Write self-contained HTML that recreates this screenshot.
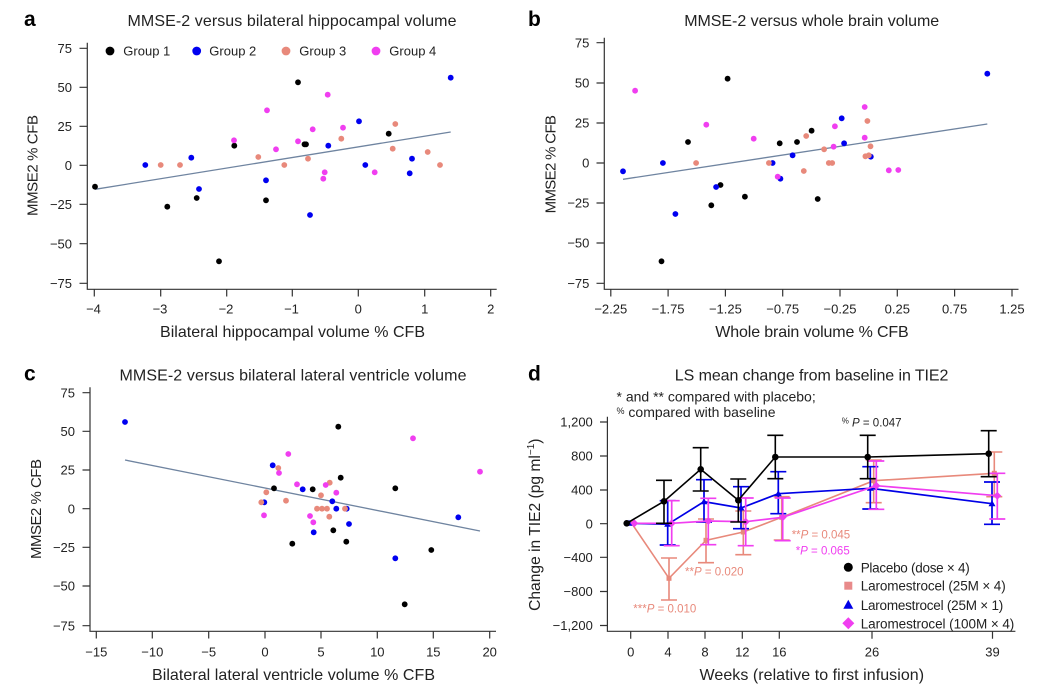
<!DOCTYPE html>
<html><head><meta charset="utf-8"><style>
body{margin:0;background:#fff}
svg{display:block}
text{font-family:"Liberation Sans",Arial,sans-serif;fill:#222}
.t{font-size:13px}
.ax{stroke:#333;stroke-width:1.2;fill:none}
.pl{font-weight:bold;font-size:21px;fill:#000}
.ti{font-size:16px}
.g1{fill:#000}.g2{fill:#0000f0}.g3{fill:#e8897b}.g4{fill:#f03ef0}
.reg{stroke:#6f84a0;stroke-width:1.3}
</style></head><body>
<svg width="1051" height="695" viewBox="0 0 1051 695" xmlns="http://www.w3.org/2000/svg">
<rect width="1051" height="695" fill="#fff"/>

<!-- ===== Panel a ===== -->
<text class="pl" x="24" y="26">a</text>
<text class="ti" x="292" y="26" text-anchor="middle" textLength="329">MMSE-2 versus bilateral hippocampal volume</text>
<path class="ax" d="M87.3,42.7V289.3H496.7"/>
<path class="ax" d="M79.5,48.3H87.3M79.5,87.3H87.3M79.5,126.3H87.3M79.5,165.3H87.3M79.5,204.3H87.3M79.5,243.7H87.3M79.5,283.3H87.3"/>
<path class="ax" d="M94.3,289.3v7.2M160.7,289.3v7.2M226.7,289.3v7.2M292.3,289.3v7.2M358.3,289.3v7.2M424.7,289.3v7.2M490.7,289.3v7.2"/>
<g class="t" text-anchor="end">
<text x="72" y="53">75</text><text x="72" y="92">50</text><text x="72" y="131">25</text><text x="72" y="170">0</text><text x="72" y="209">−25</text><text x="72" y="248.4">−50</text><text x="72" y="288">−75</text>
</g>
<g class="t" text-anchor="middle">
<text x="93.5" y="313.3">−4</text><text x="160" y="313.3">−3</text><text x="226" y="313.3">−2</text><text x="291.5" y="313.3">−1</text><text x="358.3" y="313.3">0</text><text x="424.7" y="313.3">1</text><text x="490.7" y="313.3">2</text>
</g>
<text class="ti" x="292.5" y="337" text-anchor="middle" textLength="265">Bilateral hippocampal volume % CFB</text>
<text class="ti" style="font-size:15px" transform="translate(37.7,165.5) rotate(-90)" text-anchor="middle" textLength="101">MMSE2 % CFB</text>
<!-- legend a -->
<circle class="g1" cx="110" cy="51" r="4.4"/><text class="t" x="123.3" y="55.7">Group 1</text>
<circle class="g2" cx="196.7" cy="51" r="4.4"/><text class="t" x="209.3" y="55.7">Group 2</text>
<circle class="g3" cx="286" cy="51" r="4.4"/><text class="t" x="299.3" y="55.7">Group 3</text>
<circle class="g4" cx="376" cy="51" r="4.4"/><text class="t" x="389.3" y="55.7">Group 4</text>
<line class="reg" x1="95" y1="189.3" x2="450.7" y2="132"/>
<g class="g1">
<circle cx="95" cy="186.7" r="2.9"/><circle cx="167.3" cy="206.7" r="2.9"/><circle cx="196.7" cy="198" r="2.9"/><circle cx="219" cy="261.3" r="2.9"/><circle cx="234.3" cy="145.7" r="2.9"/><circle cx="266" cy="200.3" r="2.9"/><circle cx="298" cy="82.3" r="2.9"/><circle cx="306" cy="144.3" r="2.9"/><circle cx="304.5" cy="144.3" r="2.9"/><circle cx="388.7" cy="133.7" r="2.9"/>
</g>
<g class="g2">
<circle cx="145.3" cy="165" r="2.9"/><circle cx="191.3" cy="157.7" r="2.9"/><circle cx="199" cy="189" r="2.9"/><circle cx="266" cy="180.3" r="2.9"/><circle cx="310" cy="215" r="2.9"/><circle cx="328.3" cy="145.7" r="2.9"/><circle cx="359" cy="121.3" r="2.9"/><circle cx="365.3" cy="165" r="2.9"/><circle cx="409.7" cy="173.3" r="2.9"/><circle cx="412" cy="158.7" r="2.9"/><circle cx="450.7" cy="77.7" r="2.9"/>
</g>
<g class="g3">
<circle cx="160.7" cy="165" r="2.9"/><circle cx="180" cy="165" r="2.9"/><circle cx="258.3" cy="157" r="2.9"/><circle cx="284.3" cy="165" r="2.9"/><circle cx="308" cy="158.7" r="2.9"/><circle cx="341.3" cy="138.7" r="2.9"/><circle cx="392.7" cy="148.7" r="2.9"/><circle cx="395.3" cy="124" r="2.9"/><circle cx="427.7" cy="152" r="2.9"/><circle cx="440" cy="165" r="2.9"/>
</g>
<g class="g4">
<circle cx="234" cy="140.3" r="2.9"/><circle cx="267" cy="110.3" r="2.9"/><circle cx="276" cy="149.3" r="2.9"/><circle cx="298" cy="141.3" r="2.9"/><circle cx="312.7" cy="129.3" r="2.9"/><circle cx="323.3" cy="178.7" r="2.9"/><circle cx="324.7" cy="172.3" r="2.9"/><circle cx="327.7" cy="94.7" r="2.9"/><circle cx="343" cy="127.7" r="2.9"/><circle cx="374.7" cy="172.3" r="2.9"/>
</g>

<!-- ===== Panel b ===== -->
<text class="pl" x="528" y="26">b</text>
<text class="ti" x="811.7" y="26" text-anchor="middle" textLength="255">MMSE-2 versus whole brain volume</text>
<path class="ax" d="M604.3,37.7V289.3H1018.5"/>
<path class="ax" d="M596.5,42.7H604.3M596.5,83H604.3M596.5,123H604.3M596.5,163H604.3M596.5,203H604.3M596.5,243H604.3M596.5,283.3H604.3"/>
<path class="ax" d="M610.8,289.3v7.2M668.1,289.3v7.2M725.4,289.3v7.2M782.7,289.3v7.2M840,289.3v7.2M897.3,289.3v7.2M954.6,289.3v7.2M1012,289.3v7.2"/>
<g class="t" text-anchor="end">
<text x="589.4" y="47.4">75</text><text x="589.4" y="87.7">50</text><text x="589.4" y="127.7">25</text><text x="589.4" y="167.7">0</text><text x="589.4" y="207.7">−25</text><text x="589.4" y="247.7">−50</text><text x="589.4" y="288">−75</text>
</g>
<g class="t" text-anchor="middle">
<text x="610.8" y="313.3">−2.25</text><text x="668.1" y="313.3">−1.75</text><text x="725.4" y="313.3">−1.25</text><text x="782.7" y="313.3">−0.75</text><text x="840" y="313.3">−0.25</text><text x="897.3" y="313.3">0.25</text><text x="954.6" y="313.3">0.75</text><text x="1012" y="313.3">1.25</text>
</g>
<text class="ti" x="812" y="337" text-anchor="middle" textLength="193.4">Whole brain volume % CFB</text>
<text class="ti" style="font-size:15px" transform="translate(555.6,164.2) rotate(-90)" text-anchor="middle" textLength="98.3">MMSE2 % CFB</text>
<line class="reg" x1="623" y1="179.3" x2="987.3" y2="124"/>
<g class="g1">
<circle cx="688" cy="142" r="2.9"/><circle cx="711.3" cy="205.3" r="2.9"/><circle cx="720.5" cy="185" r="2.9"/><circle cx="727.6" cy="78.7" r="2.9"/><circle cx="744.9" cy="196.7" r="2.9"/><circle cx="779.7" cy="143.3" r="2.9"/><circle cx="797" cy="142" r="2.9"/><circle cx="811.6" cy="130.7" r="2.9"/><circle cx="817.7" cy="199" r="2.9"/><circle cx="661.5" cy="261.3" r="2.9"/>
</g>
<g class="g2">
<circle cx="623" cy="171.3" r="2.9"/><circle cx="662.9" cy="163" r="2.9"/><circle cx="675.4" cy="214" r="2.9"/><circle cx="716.1" cy="187" r="2.9"/><circle cx="772.6" cy="163" r="2.9"/><circle cx="780.4" cy="178.7" r="2.9"/><circle cx="792.6" cy="155.3" r="2.9"/><circle cx="841.7" cy="118.3" r="2.9"/><circle cx="844.1" cy="143.3" r="2.9"/><circle cx="870.8" cy="156.7" r="2.9"/><circle cx="987.3" cy="73.7" r="2.9"/>
</g>
<g class="g3">
<circle cx="696.1" cy="163" r="2.9"/><circle cx="768.9" cy="163" r="2.9"/><circle cx="803.8" cy="171" r="2.9"/><circle cx="806.2" cy="136" r="2.9"/><circle cx="824.1" cy="149.3" r="2.9"/><circle cx="828.8" cy="163" r="2.9"/><circle cx="832.2" cy="163" r="2.9"/><circle cx="865.4" cy="156.3" r="2.9"/><circle cx="867.4" cy="121" r="2.9"/><circle cx="868.8" cy="155.3" r="2.9"/><circle cx="870.5" cy="146.3" r="2.9"/>
</g>
<g class="g4">
<circle cx="635.1" cy="90.7" r="2.9"/><circle cx="706.3" cy="124.7" r="2.9"/><circle cx="753.7" cy="138.7" r="2.9"/><circle cx="777.7" cy="176.7" r="2.9"/><circle cx="833.6" cy="146.7" r="2.9"/><circle cx="834.9" cy="126.3" r="2.9"/><circle cx="864.7" cy="107" r="2.9"/><circle cx="864.7" cy="137.7" r="2.9"/><circle cx="888.8" cy="170.3" r="2.9"/><circle cx="898.3" cy="170" r="2.9"/>
</g>

<!-- ===== Panel c ===== -->
<text class="pl" x="24" y="380.5">c</text>
<text class="ti" x="293" y="380.5" text-anchor="middle" textLength="347">MMSE-2 versus bilateral lateral ventricle volume</text>
<path class="ax" d="M90,387.3V631.3H496"/>
<path class="ax" d="M82.5,392.7H90M82.5,431.3H90M82.5,470H90M82.5,508.7H90M82.5,547.3H90M82.5,586H90M82.5,625.7H90"/>
<path class="ax" d="M96.3,631.3v7.2M152.3,631.3v7.2M208.7,631.3v7.2M265,631.3v7.2M321,631.3v7.2M377.3,631.3v7.2M433.3,631.3v7.2M489.7,631.3v7.2"/>
<g class="t" text-anchor="end">
<text x="75" y="397.4">75</text><text x="75" y="436">50</text><text x="75" y="474.7">25</text><text x="75" y="513.4">0</text><text x="75" y="552">−25</text><text x="75" y="590.7">−50</text><text x="75" y="630.4">−75</text>
</g>
<g class="t" text-anchor="middle">
<text x="96.3" y="656.7">−15</text><text x="152.3" y="656.7">−10</text><text x="208.7" y="656.7">−5</text><text x="265" y="656.7">0</text><text x="321" y="656.7">5</text><text x="377.3" y="656.7">10</text><text x="433.3" y="656.7">15</text><text x="489.7" y="656.7">20</text>
</g>
<text class="ti" x="293.5" y="680" text-anchor="middle" textLength="283">Bilateral lateral ventricle volume % CFB</text>
<text class="ti" style="font-size:15px" transform="translate(41,509) rotate(-90)" text-anchor="middle" textLength="100">MMSE2 % CFB</text>
<line class="reg" x1="125" y1="460" x2="480" y2="531"/>
<g class="g1">
<circle cx="274" cy="488.3" r="2.9"/><circle cx="292.3" cy="543.7" r="2.9"/><circle cx="312.7" cy="489.3" r="2.9"/><circle cx="333.3" cy="530.3" r="2.9"/><circle cx="338.3" cy="426.7" r="2.9"/><circle cx="340.7" cy="477.7" r="2.9"/><circle cx="346.3" cy="541.7" r="2.9"/><circle cx="395.3" cy="488.3" r="2.9"/><circle cx="404.7" cy="604.3" r="2.9"/><circle cx="431.3" cy="550" r="2.9"/>
</g>
<g class="g2">
<circle cx="125" cy="422" r="2.9"/><circle cx="264.3" cy="502.3" r="2.9"/><circle cx="272.7" cy="465.3" r="2.9"/><circle cx="302.7" cy="489.3" r="2.9"/><circle cx="313.7" cy="532.3" r="2.9"/><circle cx="332.3" cy="501.3" r="2.9"/><circle cx="336.3" cy="508.7" r="2.9"/><circle cx="346.7" cy="508.7" r="2.9"/><circle cx="349" cy="524" r="2.9"/><circle cx="395.3" cy="558.3" r="2.9"/><circle cx="458.3" cy="517.3" r="2.9"/>
</g>
<g class="g3">
<circle cx="261.3" cy="502.3" r="2.9"/><circle cx="266.3" cy="492.3" r="2.9"/><circle cx="278.3" cy="468" r="2.9"/><circle cx="286" cy="500.7" r="2.9"/><circle cx="317" cy="508.7" r="2.9"/><circle cx="321" cy="495.3" r="2.9"/><circle cx="322" cy="508.7" r="2.9"/><circle cx="327" cy="508.7" r="2.9"/><circle cx="329.3" cy="516.7" r="2.9"/><circle cx="329.7" cy="482.7" r="2.9"/><circle cx="345" cy="508.7" r="2.9"/>
</g>
<g class="g4">
<circle cx="264" cy="515.3" r="2.9"/><circle cx="279" cy="473" r="2.9"/><circle cx="288.3" cy="454" r="2.9"/><circle cx="297" cy="484.3" r="2.9"/><circle cx="310" cy="516" r="2.9"/><circle cx="313.3" cy="522.3" r="2.9"/><circle cx="325.7" cy="485" r="2.9"/><circle cx="336.3" cy="492.7" r="2.9"/><circle cx="413" cy="438.3" r="2.9"/><circle cx="480" cy="471.7" r="2.9"/>
</g>

<!-- ===== Panel d ===== -->
<text class="pl" x="528" y="380.5">d</text>
<text class="ti" x="811.6" y="380.5" text-anchor="middle" textLength="273.6">LS mean change from baseline in TIE2</text>
<text x="616.5" y="401.7" style="font-size:14px">* and ** compared with placebo;</text>
<text x="616.5" y="417" style="font-size:14px"><tspan style="font-size:9px" dy="-3">%</tspan><tspan dy="3"> compared with baseline</tspan></text>
<path class="ax" d="M607.4,416.7V631.3H1015.4"/>
<path class="ax" d="M600,422H607.4M600,456H607.4M600,490H607.4M600,523.7H607.4M600,557.3H607.4M600,591.5H607.4M600,625.5H607.4"/>
<path class="ax" d="M630.7,631.3v7.5M668,631.3v7.5M705,631.3v7.5M742.3,631.3v7.5M779.3,631.3v7.5M872,631.3v7.5M992.5,631.3v7.5"/>
<g class="t" text-anchor="end">
<text x="592.8" y="426.7">1,200</text><text x="592.8" y="460.7">800</text><text x="592.8" y="494.7">400</text><text x="592.8" y="528.4">0</text><text x="592.8" y="562">−400</text><text x="592.8" y="596.2">−800</text><text x="592.8" y="630.2">−1,200</text>
</g>
<g class="t" text-anchor="middle">
<text x="630.7" y="656.7">0</text><text x="668" y="656.7">4</text><text x="705" y="656.7">8</text><text x="742.3" y="656.7">12</text><text x="779.3" y="656.7">16</text><text x="872" y="656.7">26</text><text x="992.5" y="656.7">39</text>
</g>
<text class="ti" x="811.8" y="680" text-anchor="middle" textLength="224.5">Weeks (relative to first infusion)</text>
<text style="font-size:15.6px" transform="translate(540,524.7) rotate(-90)" text-anchor="middle">Change in TIE2 (pg ml<tspan style="font-size:10px" dy="-6">−1</tspan><tspan dy="6">)</tspan></text>

<!-- salmon series -->
<g stroke="#e8897b" stroke-width="1.6" fill="none">
<polyline points="631.7,523.3 669,578.3 706,540.3 743.3,532 781.7,517.3 873.7,480.7 994.3,473.3"/>
<path d="M669,558V600M661,558H677M661,600H677 M706,519V562.7M698,519H714M698,562.7H714 M743.3,511V554.7M735.3,511H751.3M735.3,554.7H751.3 M781.7,496.7V540M773.7,496.7H789.7M773.7,540H789.7 M873.7,460V502.7M865.7,460H881.7M865.7,502.7H881.7 M994.3,452V496.7M986.3,452H1002.3M986.3,496.7H1002.3"/>
</g>
<g fill="#e8897b">
<rect x="629.2" y="520.8" width="5" height="5"/><rect x="666.5" y="575.8" width="5" height="5"/><rect x="703.5" y="537.8" width="5" height="5"/><rect x="740.8" y="529.5" width="5" height="5"/><rect x="779.2" y="514.8" width="5" height="5"/><rect x="871.2" y="478.2" width="5" height="5"/><rect x="991.8" y="470.8" width="5" height="5"/>
</g>
<!-- blue series -->
<g stroke="#0000e6" stroke-width="1.7" fill="none">
<polyline points="629,523.3 667.7,524.3 704,501.7 741,508 778.3,493.7 870.3,488.3 992,503.7"/>
<path d="M667.7,500.7V545M659.7,500.7H675.7M659.7,545H675.7 M704,479.7V522M696,479.7H712M696,522H712 M741,486.7V528.7M733,486.7H749M733,528.7H749 M778.3,471.7V513.7M770.3,471.7H786.3M770.3,513.7H786.3 M870.3,466.7V509M862.3,466.7H878.3M862.3,509H878.3 M992,482V524.3M984,482H1000M984,524.3H1000"/>
</g>
<g fill="#0000e6">
<path d="M629,519.8l3.5,6h-7z M667.7,520.8l3.5,6h-7z M704,498.2l3.5,6h-7z M741,504.5l3.5,6h-7z M778.3,490.2l3.5,6h-7z M870.3,484.8l3.5,6h-7z M992,500.2l3.5,6h-7z"/>
</g>
<!-- magenta series -->
<g stroke="#f03ef0" stroke-width="1.7" fill="none">
<polyline points="634.3,523.3 671.7,523.3 708.3,521 745.7,521.7 782.7,517.3 876.3,485.7 997.3,495.7"/>
<path d="M671.7,500.7V545.7M663.7,500.7H679.7M663.7,545.7H679.7 M708.3,498.3V544.7M700.3,498.3H716.3M700.3,544.7H716.3 M745.7,498V545.7M737.7,498H753.7M737.7,545.7H753.7 M782.7,498V540.7M774.7,498H790.7M774.7,540.7H790.7 M876.3,461V509.3M868.3,461H884.3M868.3,509.3H884.3 M997.3,473.3V519M989.3,473.3H1005.3M989.3,519H1005.3"/>
</g>
<g fill="#f03ef0">
<path d="M634.3,519.3l4,4l-4,4l-4,-4z M671.7,519.3l4,4l-4,4l-4,-4z M708.3,517l4,4l-4,4l-4,-4z M745.7,517.7l4,4l-4,4l-4,-4z M782.7,513.3l4,4l-4,4l-4,-4z M876.3,481.7l4,4l-4,4l-4,-4z M997.3,491.7l4,4l-4,4l-4,-4z"/>
</g>
<!-- black series -->
<g stroke="#000" stroke-width="1.6" fill="none">
<polyline points="626.7,523.3 664,501.3 700.7,469.3 738.3,500.3 775.3,457 867.7,457 988.7,453.7"/>
<path d="M664,480.3V523.3M656,480.3H672M656,523.3H672 M700.7,447.7V491M692.7,447.7H708.7M692.7,491H708.7 M738.3,479V522M730.3,479H746.3M730.3,522H746.3 M775.3,435.3V478.7M767.3,435.3H783.3M767.3,478.7H783.3 M867.7,435.3V478.7M859.7,435.3H875.7M859.7,478.7H875.7 M988.7,430.7V476.7M980.7,430.7H996.7M980.7,476.7H996.7"/>
</g>
<g fill="#000">
<circle cx="626.7" cy="523.3" r="3.3"/><circle cx="664" cy="501.3" r="3.3"/><circle cx="700.7" cy="469.3" r="3.3"/><circle cx="738.3" cy="500.3" r="3.3"/><circle cx="775.3" cy="457" r="3.3"/><circle cx="867.7" cy="457" r="3.3"/><circle cx="988.7" cy="453.7" r="3.3"/>
</g>

<!-- annotations -->
<text x="841.7" y="426.5" style="font-size:11.5px;fill:#222"><tspan style="font-size:8px" dy="-3">%</tspan><tspan dy="3" font-style="italic"> P</tspan> = 0.047</text>
<text x="791.7" y="538.3" style="font-size:11.5px;fill:#e8897b">**<tspan font-style="italic">P</tspan> = 0.045</text>
<text x="795.7" y="554.3" style="font-size:11.5px;fill:#f03ef0">*<tspan font-style="italic">P</tspan> = 0.065</text>
<text x="685" y="575.7" style="font-size:11.5px;fill:#e8897b">**<tspan font-style="italic">P</tspan> = 0.020</text>
<text x="633.3" y="612.3" style="font-size:11.5px;fill:#e8897b">***<tspan font-style="italic">P</tspan> = 0.010</text>

<!-- legend d -->
<circle cx="848.3" cy="567.3" r="4.5" fill="#000"/>
<rect x="844.3" y="581.7" width="8" height="8" fill="#e88a8a"/>
<path d="M848.3,599.8l5,9h-10z" fill="#0000e6"/>
<path d="M848.3,617.3l6,6l-6,6l-6,-6z" fill="#f03ef0"/>
<g style="font-size:13.5px">
<text x="860.7" y="572.3" textLength="109">Placebo (dose × 4)</text>
<text x="860.7" y="590.7" textLength="145">Laromestrocel (25M × 4)</text>
<text x="860.7" y="610" textLength="142.6">Laromestrocel (25M × 1)</text>
<text x="860.7" y="628.3" textLength="153.6">Laromestrocel (100M × 4)</text>
</g>
</svg>
</body></html>
